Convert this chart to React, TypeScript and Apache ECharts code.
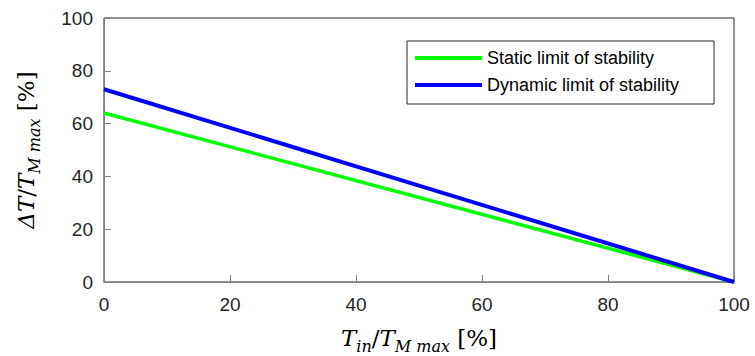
import React, { useEffect, useRef } from "react";
import * as echarts from "echarts";

const xValues = [0, 100];
const staticLimit = [64, 0];
const dynamicLimit = [73, 0];
const seriesNames = ["Static limit of stability", "Dynamic limit of stability"];

const mathFont = "'DejaVu Serif', serif";
const richStyles = {
  i: { fontFamily: mathFont, fontStyle: "italic", fontSize: 23, lineHeight: 32, verticalAlign: "middle", color: "#000" },
  n: { fontFamily: mathFont, fontSize: 23, lineHeight: 32, verticalAlign: "middle", color: "#000" },
  s: { fontFamily: mathFont, fontStyle: "italic", fontSize: 16, lineHeight: 16, verticalAlign: "bottom", color: "#000" },
};

export default function App() {
  const ref = useRef<HTMLDivElement>(null);
  useEffect(() => {
    if (!ref.current) return;
    const chart = echarts.init(ref.current, undefined, { renderer: "svg" });
    const tickFont = { fontFamily: "'Liberation Sans', Arial, sans-serif", fontSize: 19, color: "#262626" };
    chart.setOption({
      animation: false,
      backgroundColor: "#fff",
      grid: {
        left: 104, top: 18, right: 21, bottom: 74,
        outerBoundsMode: "none", containLabel: false,
        show: true, borderColor: "#262626", borderWidth: 1, backgroundColor: "transparent",
      },
      legend: {
        show: true,
        orient: "vertical",
        left: 407,
        top: 41,
        padding: [8, 35, 10, 8],
        itemGap: 9,
        itemWidth: 67,
        itemHeight: 4,
        icon: "rect",
        backgroundColor: "#fff",
        borderColor: "#262626",
        borderWidth: 1,
        borderRadius: 0,
        textStyle: { fontFamily: "'Liberation Sans', Arial, sans-serif", fontSize: 18, color: "#000" },
        data: seriesNames,
      },
      xAxis: {
        type: "value",
        min: 0,
        max: 100,
        interval: 20,
        nameLocation: "middle",
        nameGap: 40,
        name: "{i|T}{s|in}{n|/}{i|T}{s|M max}{n| [%]}",
        nameTextStyle: { rich: richStyles },
        axisLine: { show: true, lineStyle: { color: "#808080", width: 1 } },
        axisTick: { show: true, inside: true, length: 7, lineStyle: { color: "#808080" } },
        axisLabel: { ...tickFont, margin: 13 },
        splitLine: { show: false },
      },
      yAxis: {
        type: "value",
        min: 0,
        max: 100,
        interval: 20,
        nameLocation: "middle",
        nameGap: 62,
        nameRotate: 90,
        name: "{i|ΔT}{n|/}{i|T}{s|M max}{n| [%]}",
        nameTextStyle: { rich: richStyles },
        axisLine: { show: true, lineStyle: { color: "#808080", width: 1 } },
        axisTick: { show: true, inside: true, length: 7, lineStyle: { color: "#808080" } },
        axisLabel: { ...tickFont, margin: 11 },
        splitLine: { show: false },
      },
      series: [
        {
          name: seriesNames[0],
          type: "line",
          data: xValues.map((x, k) => [x, staticLimit[k]]),
          showSymbol: false,
          lineStyle: { color: "#00ff00", width: 3.5 },
          itemStyle: { color: "#00ff00" },
        },
        {
          name: seriesNames[1],
          type: "line",
          data: xValues.map((x, k) => [x, dynamicLimit[k]]),
          showSymbol: false,
          lineStyle: { color: "#0000ff", width: 4 },
          itemStyle: { color: "#0000ff" },
        },
      ],
    });
    return () => chart.dispose();
  }, []);
  return <div ref={ref} style={{ width: 755, height: 356, position: "absolute", left: 0, top: 0 }} />;
}
